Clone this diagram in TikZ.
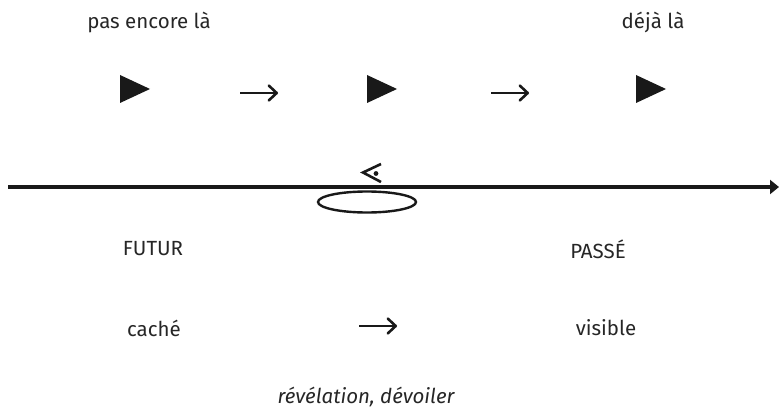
\documentclass[tikz,border=0pt]{standalone}
\usepackage{fontspec}
\setmainfont{Fira Sans}
\usetikzlibrary{arrows.meta,shapes.geometric}
\begin{document}
\begin{tikzpicture}[x=1pt,y=-1pt,
  lbl/.style={font=\fontsize{20.5}{24}\selectfont, text=black!85, inner sep=0pt},
  small/.style={-{Straight Barb[length=8pt,width=15pt,round]}, line width=2.6pt, black!90}]
\useasboundingbox (0,0) rectangle (779,409);
\node[lbl] (pas) at (149,22) {pas encore là};
\node[lbl] (deja) at (653,22) {déjà là};
\fill[black!90] (120,75) -- (150,89) -- (120,103) -- cycle;
\fill[black!90] (367,75) -- (397,89) -- (367,103) -- cycle;
\fill[black!90] (636,75) -- (666,89) -- (636,103) -- cycle;
\coordinate (a1s) at (240,93); \coordinate (a1e) at (278,93);
\coordinate (a2s) at (491,93); \coordinate (a2e) at (529,93);
\draw[small] (a1s) -- (a1e);
\draw[small] (a2s) -- (a2e);
\coordinate (ls) at (8,187); \coordinate (le) at (779,187);
\draw[line width=3.2pt, black!90, -{Triangle[length=9pt,width=14pt]}] (ls) -- (le);
\draw[line width=2.6pt, black!90] (381,164) -- (363,172.5) -- (381,182);
\fill[black!90] (376,173.5) circle (2.4pt);
\node[draw=black!90, line width=2.4pt, ellipse, minimum width=98pt, minimum height=21pt, inner sep=0pt] (ell) at (367,202) {};
\node[lbl] (fut) at (153,249) {FUTUR};
\node[lbl] (passe) at (598,249) {PASSÉ};
\node[lbl] (cache) at (154,328) {caché};
\node[lbl] (vis) at (606,328) {visible};
\coordinate (a3s) at (359,326); \coordinate (a3e) at (397,326);
\draw[small] (a3s) -- (a3e);
\node[lbl, font=\fontsize{20.5}{24}\selectfont\itshape] (rev) at (366,397) {révélation, dévoiler};
\end{tikzpicture}
\end{document}
